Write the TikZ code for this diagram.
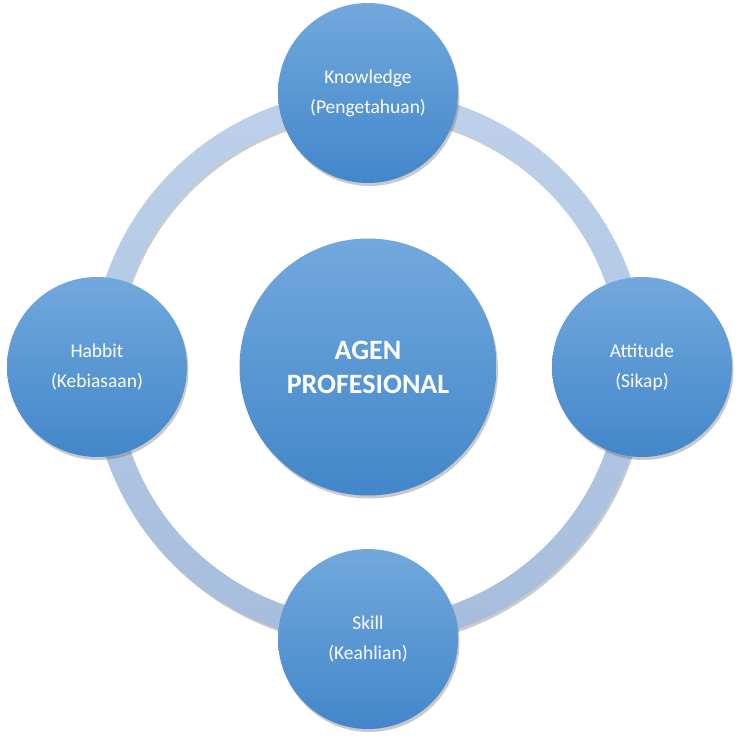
\documentclass[tikz,border=0pt]{standalone}
\usepackage{fontspec}
\setmainfont{Carlito}
\usetikzlibrary{shadows}
\definecolor{ctop}{HTML}{72A8DD}
\definecolor{cbot}{HTML}{4287CA}
\definecolor{rtop}{HTML}{BDD1EB}
\definecolor{rbot}{HTML}{A5BDDC}
\tikzset{
  bubble/.style={circle, inner sep=0pt, minimum size=180pt, top color=ctop, bottom color=cbot,
    draw=none, text=white, align=center, font=\fontsize{19.5}{30}\selectfont,
    drop shadow={shadow xshift=1.5pt, shadow yshift=-3pt, opacity=0.35, fill=black!60}},
  bigbubble/.style={bubble, minimum size=257pt, font=\fontsize{28}{34}\selectfont\bfseries}
}
\begin{document}
\begin{tikzpicture}[x=1pt,y=-1pt]
\useasboundingbox[fill=white] (0,0) rectangle (739,741);
\coordinate (c) at (368,367);
% ring shadow
\fill[black!45, opacity=0.45, even odd rule] ([shift={(1.5,2.5)}]c) circle (277) ([shift={(1.5,2.5)}]c) circle (252);
% ring
\shade[top color=rtop, bottom color=rbot, even odd rule] (c) circle (277) (c) circle (252);
\node[bigbubble] (center) at (c) {AGEN\\PROFESIONAL};
\node[bubble] (know) at (368,93) {Knowledge\\(Pengetahuan)};
\node[bubble] (hab) at (97,367) {Habbit\\(Kebiasaan)};
\node[bubble] (att) at (642,367) {Attitude\\(Sikap)};
\node[bubble] (skill) at (368,639) {Skill\\(Keahlian)};
\end{tikzpicture}
\end{document}
